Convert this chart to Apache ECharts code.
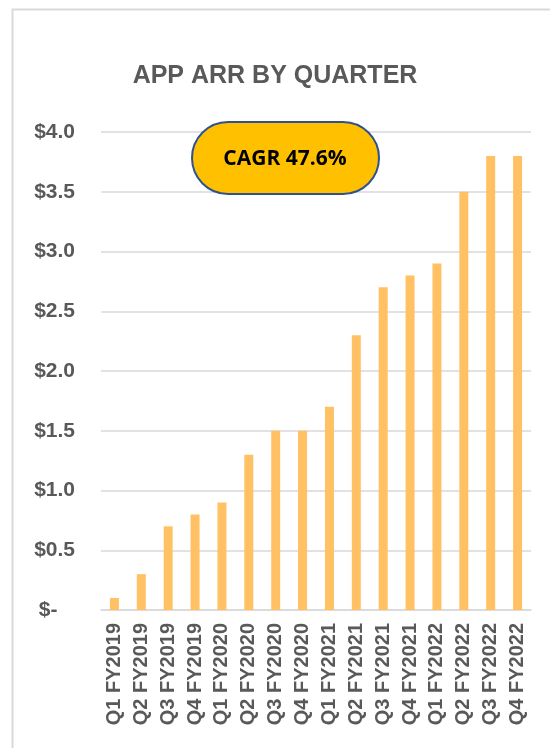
<!DOCTYPE html>
<html>
<head>
<meta charset="utf-8">
<script src="https://cdn.jsdelivr.net/npm/echarts@6/dist/echarts.min.js"></script>
<style>
html,body{margin:0;padding:0;background:#fff;}
#chart{width:550px;height:748px;}
</style>
</head>
<body>
<div id="chart"></div>
<script>
var quarters = ['Q1 FY2019','Q2 FY2019','Q3 FY2019','Q4 FY2019',
	'Q1 FY2020','Q2 FY2020','Q3 FY2020','Q4 FY2020',
	'Q1 FY2021','Q2 FY2021','Q3 FY2021','Q4 FY2021',
	'Q1 FY2022','Q2 FY2022','Q3 FY2022','Q4 FY2022'];
var arr = [0.1,0.3,0.7,0.8,0.9,1.3,1.5,1.5,1.7,2.3,2.7,2.8,2.9,3.5,3.8,3.8];
var cagrText = 'CAGR 47.6%';

var myChart = echarts.init(document.getElementById('chart'));
var option = {
	backgroundColor:'#fff',
	animation:false,
	title:{
		text:'APP ARR BY QUARTER',
		left:'center',
		top:59,
		textStyle:{color:'#595959',fontSize:25,fontWeight:'bold',fontFamily:'Liberation Sans, Arial, sans-serif'}
	},
	grid:{left:101,right:19,top:132,bottom:138},
	xAxis:{
		type:'category',
		data:quarters,
		axisTick:{show:false},
		axisLine:{lineStyle:{color:'#D9D9D9',width:1.5}},
		axisLabel:{
			interval:0,
			rotate:90,
			margin:13,
			color:'#595959',
			fontSize:20,
			fontWeight:'bold',
			fontFamily:'Liberation Sans, Arial, sans-serif'
		}
	},
	yAxis:{
		type:'value',
		min:0,
		max:4,
		interval:0.5,
		axisLine:{show:false},
		axisTick:{show:false},
		splitLine:{lineStyle:{color:'#D9D9D9',width:1.5}},
		axisLabel:{
			margin:26,
			color:'#595959',
			fontSize:21,
			fontWeight:'bold',
			fontFamily:'Liberation Sans, Arial, sans-serif',
			formatter:function(v){
				if(v === 0){ return '$-   '; }
				return '$' + v.toFixed(1);
			}
		}
	},
	series:[{
		type:'bar',
		data:arr,
		barWidth:9,
		itemStyle:{color:'#FFC164'}
	}],
	graphic:[
		{
			type:'rect',
			left:10,top:7,
			shape:{width:600,height:800},
			style:{fill:'none',stroke:'#D9D9D9',lineWidth:2},
			z:-1
		},
		{
			type:'rect',
			left:191,top:121,
			shape:{width:187,height:72,r:36},
			style:{fill:'#FFC000',stroke:'#2F528F',lineWidth:2},
			z:10
		},
		{
			type:'text',
			x:285,
			y:159,
			style:{
				text:cagrText,
				fill:'#000',
				font:'bold 21px "Open Sans", sans-serif',
				textAlign:'center',
				textVerticalAlign:'middle'
			},
			z:11
		}
	]
};
myChart.setOption(option);
</script>
</body>
</html>
